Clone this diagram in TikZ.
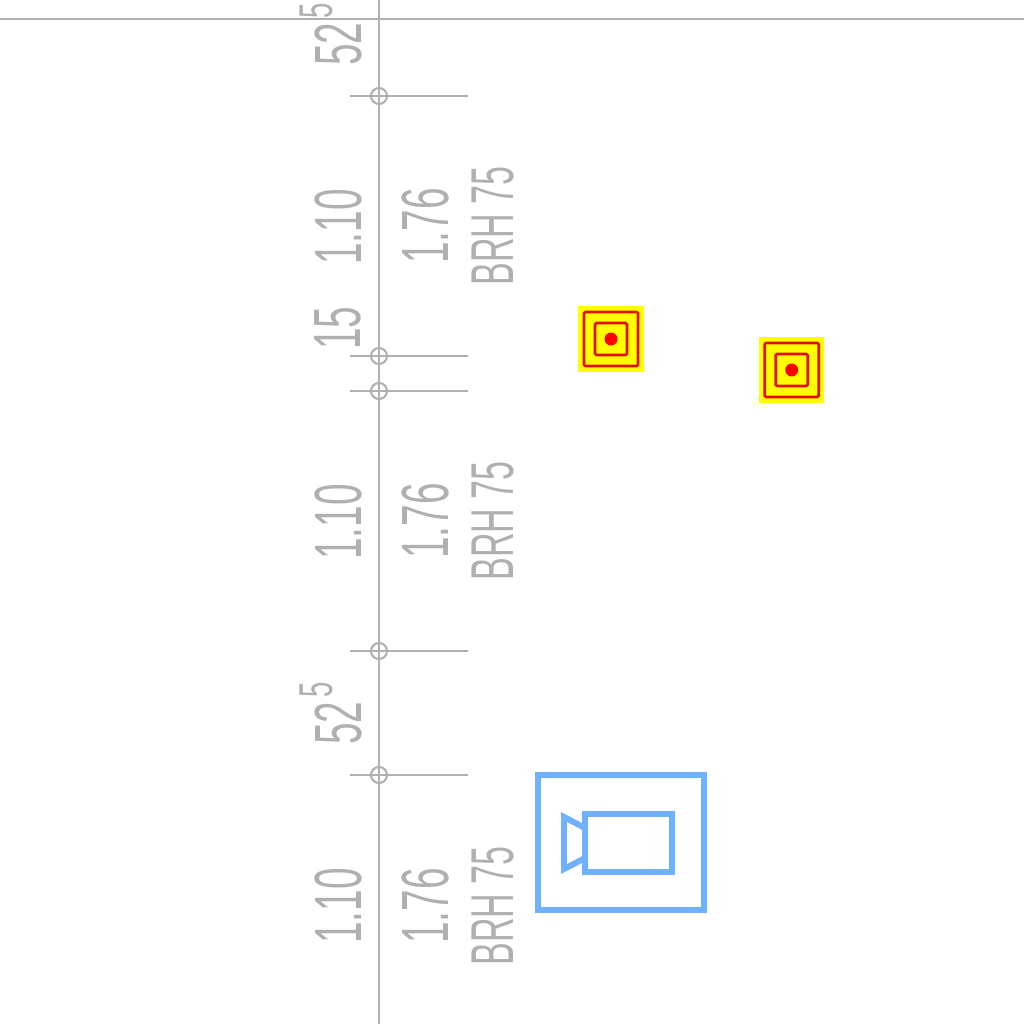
\documentclass[tikz,border=0pt]{standalone}
\usepackage{fontspec}
\setmainfont{Liberation Sans}
\usepackage{xcolor}
\definecolor{dimgray}{HTML}{B0B0B0}
\definecolor{camblue}{HTML}{6FB1FF}
\definecolor{tgtred}{HTML}{E01010}
\definecolor{tgtyel}{RGB}{255,255,0}
\usepackage{tikz}
\tikzset{
  gline/.style ={draw=dimgray, line width=0.6pt},
  bubble/.style={circle, draw=dimgray, line width=0.6pt, minimum size=1.6mm, inner sep=0pt},
  dimtxt/.style={text=dimgray, inner sep=0pt, rotate=90, xscale=0.58, font=\fontsize{19}{20}\selectfont},
  suptxt/.style={dimtxt, font=\fontsize{13.5}{14}\selectfont},
  brhtxt/.style={dimtxt, xscale=0.97, font=\fontsize{17.2}{18}\selectfont},
  tgtbg/.style ={rectangle, fill=tgtyel, inner sep=0pt, minimum size=6.5mm},
  tgtbox/.style={rectangle, rounded corners=0.4pt, draw=tgtred, line width=0.75pt, inner sep=0pt},
  tgtout/.style={tgtbox, minimum size=5.4mm},
  tgtin/.style ={tgtbox, minimum size=3.2mm},
  tgtdot/.style={circle, fill=red, inner sep=0pt, minimum size=1.3mm},
  camline/.style={draw=camblue, line width=1.5pt},
}
\begin{document}
\begin{tikzpicture}[x=0.01cm, y=-0.01cm]
  \useasboundingbox (0,0) rectangle (1024,1024);
  % grid lines
  \coordinate (axT) at (379,0);
  \coordinate (axB) at (379,1024);
  \coordinate (topL) at (0,19);
  \coordinate (topR) at (1024,19);
  \draw[gline] (axT) -- (axB);
  \draw[gline] (topL) -- (topR);
  % ticks on the axis
  \node[bubble] (b1) at (379,96) {};
  \node[bubble] (b2) at (379,356) {};
  \node[bubble] (b3) at (379,391) {};
  \node[bubble] (b4) at (379,651) {};
  \node[bubble] (b5) at (379,775) {};
  \coordinate (t1L) at (350,96);  \coordinate (t1R) at (468,96);
  \coordinate (t2L) at (350,356); \coordinate (t2R) at (468,356);
  \coordinate (t3L) at (350,391); \coordinate (t3R) at (468,391);
  \coordinate (t4L) at (350,651); \coordinate (t4R) at (468,651);
  \coordinate (t5L) at (350,775); \coordinate (t5R) at (468,775);
  \draw[gline] (t1L) -- (t1R);
  \draw[gline] (t2L) -- (t2R);
  \draw[gline] (t3L) -- (t3R);
  \draw[gline] (t4L) -- (t4R);
  \draw[gline] (t5L) -- (t5R);
  % dimensions
  \node[dimtxt] (dimA) at (338,44) {52};
  \node[suptxt] (supA) at (316,11) {5};
  \node[dimtxt] (w1) at (338,227) {1.10};
  \node[dimtxt] (h1) at (425,226) {1.76};
  \node[brhtxt] (brh1) at (493,226) {BRH 75};
  \node[dimtxt] (dimB) at (338,328) {15};
  \node[dimtxt] (w2) at (338,522) {1.10};
  \node[dimtxt] (h2) at (425,521) {1.76};
  \node[brhtxt] (brh2) at (493,521) {BRH 75};
  \node[dimtxt] (dimC) at (338,723) {52};
  \node[suptxt] (supC) at (316,690) {5};
  \node[dimtxt] (w3) at (338,906) {1.10};
  \node[dimtxt] (h3) at (425,906) {1.76};
  \node[brhtxt] (brh3) at (493,906) {BRH 75};
  % targets
  \node[tgtbg] (tgA) at (611,339) {};
  \node[tgtout] (tgAo) at (tgA) {};
  \node[tgtin] (tgAi) at (tgA) {};
  \node[tgtdot] (tgAd) at (tgA) {};
  \node[tgtbg] (tgB) at (791.7,370) {};
  \node[tgtout] (tgBo) at (tgB) {};
  \node[tgtin] (tgBi) at (tgB) {};
  \node[tgtdot] (tgBd) at (tgB) {};
  % camera
  \draw[camline, line width=1.65pt] (538,775) rectangle (704,910);
  \draw[camline] (585,814) rectangle (672,872);
  \draw[camline, line width=1.7pt] (585,828) -- (564,817) -- (564,869) -- (585,858);
\end{tikzpicture}
\end{document}
